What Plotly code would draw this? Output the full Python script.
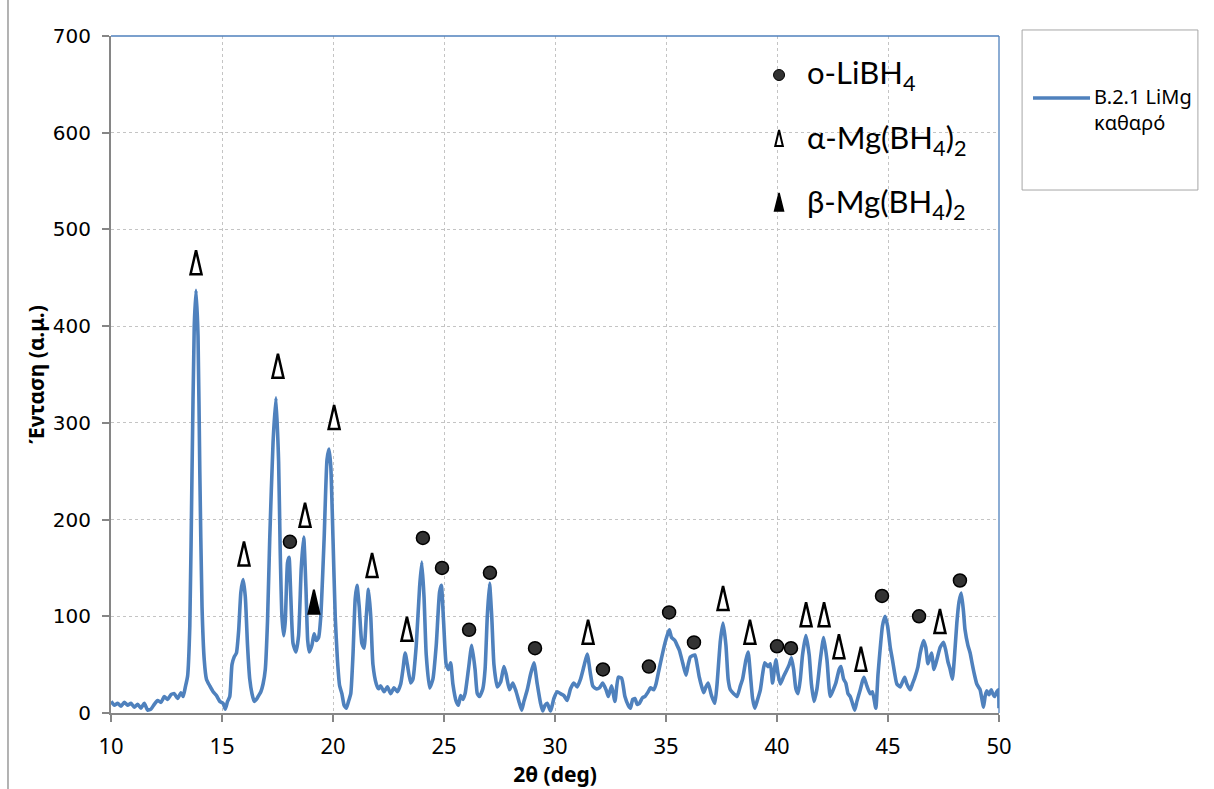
import plotly.graph_objects as go

# XRD pattern of sample B.2.1 LiMg (pure)
two_theta = [
    10.0, 10.15, 10.3, 10.45, 10.6, 10.75, 10.9, 11.05, 11.2, 11.35, 11.5, 11.65, 11.8, 11.95,
    12.1, 12.25, 12.4, 12.55, 12.7, 12.85, 13.0, 13.15, 13.25, 13.35, 13.45, 13.55, 13.65, 13.75,
    13.83, 13.92, 14.0, 14.1, 14.2, 14.3, 14.45, 14.6, 14.75, 14.9, 15.05, 15.15, 15.25, 15.35,
    15.45, 15.55, 15.65, 15.75, 15.85, 15.95, 16.05, 16.15, 16.25, 16.35, 16.45, 16.55, 16.65,
    16.75, 16.85, 16.95, 17.05, 17.15, 17.3, 17.43, 17.55, 17.62, 17.7, 17.78, 17.85, 17.95,
    18.02, 18.1, 18.2, 18.33, 18.45, 18.57, 18.68, 18.78, 18.86, 18.93, 19.05, 19.15, 19.25,
    19.35, 19.45, 19.6, 19.73, 19.82, 19.9, 20.0, 20.1, 20.2, 20.3, 20.4, 20.5, 20.6, 20.7,
    20.8, 20.9, 21.0, 21.08, 21.18, 21.3, 21.4, 21.5, 21.6, 21.7, 21.8, 21.95, 22.05, 22.15,
    22.3, 22.45, 22.6, 22.75, 22.9, 23.05, 23.15, 23.25, 23.35, 23.5, 23.6, 23.75, 23.9, 24.0,
    24.1, 24.2, 24.35, 24.5, 24.65, 24.8, 24.88, 24.98, 25.1, 25.2, 25.3, 25.4, 25.55, 25.65,
    25.75, 25.85, 25.95, 26.1, 26.25, 26.4, 26.5, 26.6, 26.75, 26.85, 26.95, 27.05, 27.15,
    27.25, 27.4, 27.55, 27.7, 27.8, 27.95, 28.1, 28.25, 28.4, 28.5, 28.6, 28.75, 28.9, 29.05,
    29.2, 29.35, 29.45, 29.55, 29.65, 29.8, 29.95, 30.1, 30.25, 30.4, 30.55, 30.7, 30.85, 31.0,
    31.15, 31.3, 31.45, 31.6, 31.7, 31.85, 32.0, 32.15, 32.3, 32.4, 32.55, 32.7, 32.85, 33.0,
    33.15, 33.3, 33.4, 33.5, 33.6, 33.7, 33.8, 33.95, 34.05, 34.2, 34.3, 34.45, 34.55, 34.65,
    34.8, 34.95, 35.05, 35.15, 35.25, 35.4, 35.5, 35.6, 35.75, 35.9, 36.0, 36.1, 36.3, 36.4,
    36.5, 36.6, 36.7, 36.8, 36.9, 37.05, 37.2, 37.3, 37.45, 37.57, 37.7, 37.8, 37.9, 38.05,
    38.2, 38.35, 38.45, 38.6, 38.7, 38.8, 38.9, 39.0, 39.1, 39.25, 39.35, 39.45, 39.6, 39.7,
    39.8, 39.9, 39.95, 40.05, 40.15, 40.3, 40.45, 40.55, 40.65, 40.75, 40.85, 40.95, 41.05,
    41.15, 41.3, 41.45, 41.55, 41.67, 41.8, 41.95, 42.1, 42.25, 42.4, 42.55, 42.65, 42.8,
    42.88, 43.0, 43.1, 43.2, 43.3, 43.4, 43.5, 43.6, 43.75, 43.85, 43.92, 44.05, 44.2, 44.3,
    44.45, 44.55, 44.65, 44.75, 44.87, 44.98, 45.1, 45.2, 45.3, 45.4, 45.55, 45.65, 45.75,
    45.85, 46.0, 46.1, 46.2, 46.35, 46.45, 46.6, 46.7, 46.8, 46.9, 46.97, 47.07, 47.2, 47.35,
    47.5, 47.6, 47.7, 47.8, 47.9, 48.0, 48.1, 48.2, 48.3, 48.4, 48.47, 48.6, 48.7, 48.8,
    48.9, 49.0, 49.1, 49.15, 49.25, 49.3, 49.38, 49.45, 49.55, 49.65, 49.7, 49.8, 49.9,
    49.97, 50.0,
]
intensity = [
    12, 8, 10, 7, 11, 8, 10, 6, 9, 5, 10, 3, 4, 9,
    13, 11, 17, 14, 19, 20, 15, 21, 17, 27, 38, 90, 250, 400,
    437, 390, 250, 110, 55, 35, 28, 22, 18, 12, 10, 4, 12, 17,
    50, 58, 62, 85, 125, 138, 120, 70, 35, 20, 12, 14, 18,
    22, 30, 45, 95, 180, 280, 326, 260, 170, 100, 80, 95, 155,
    161, 120, 72, 63, 80, 150, 182, 130, 75, 63, 70, 82, 75,
    78, 100, 180, 262, 273, 255, 180, 100, 55, 28, 20, 8, 5, 12,
    20, 60, 118, 132, 110, 72, 67, 100, 128, 100, 50, 30, 25, 28,
    22, 27, 20, 26, 22, 30, 45, 62, 50, 31, 35, 70, 130, 156,
    120, 60, 26, 35, 70, 125, 132, 95, 50, 45, 52, 30, 12, 8,
    18, 14, 20, 45, 70, 45, 20, 17, 25, 45, 100, 134, 100,
    50, 27, 32, 48, 40, 24, 31, 22, 10, 3, 12, 24, 40, 52,
    30, 10, 2, 8, 10, 2, 15, 22, 20, 18, 13, 25, 31, 27,
    35, 48, 61, 40, 28, 25, 26, 31, 24, 17, 28, 12, 37, 36,
    17, 8, 5, 14, 15, 9, 10, 16, 17, 22, 26, 24, 30, 41,
    57, 72, 80, 86, 78, 75, 70, 65, 52, 39, 50, 58, 60, 50,
    37, 28, 21, 27, 31, 18, 10, 30, 75, 93, 70, 35, 24, 20,
    17, 28, 35, 55, 63, 40, 15, 5, 12, 24, 40, 52, 48, 51,
    31, 48, 55, 40, 30, 38, 45, 50, 57, 45, 25, 20, 35,
    60, 80, 60, 30, 12, 25, 55, 78, 55, 17, 25, 31, 45,
    48, 35, 31, 20, 17, 10, 3, 12, 24, 33, 37, 28, 20, 22,
    5, 40, 67, 90, 100, 90, 68, 55, 41, 30, 27, 32, 37,
    30, 24, 30, 36, 48, 62, 75, 68, 51, 58, 62, 45, 55, 68,
    73, 65, 53, 45, 35, 60, 93, 115, 124, 105, 86, 70, 62, 50,
    39, 30, 26, 24, 12, 6, 18, 23, 19, 24, 21, 17, 22,
    24, 5,
]

# Phase identification marks
alpha_x = [13.83, 15.99, 17.52, 18.74, 20.05, 21.76, 23.33, 31.49, 37.57, 38.78,
           41.31, 42.12, 42.79, 43.78, 47.34]
alpha_y = [466, 165, 359, 205, 306, 153, 87, 84, 119, 84, 102, 102, 69, 56, 95]
libh4_x = [18.06, 24.05, 24.91, 26.13, 27.07, 29.10, 32.16, 34.23, 35.14, 36.26,
           40.00, 40.63, 44.73, 46.40, 48.24]
libh4_y = [177, 181, 150, 86, 145, 67, 45, 48, 104, 73, 69, 67, 121, 100, 137]
beta_x = [19.14]
beta_y = [115]

phase_labels = ["o-LiBH<sub>4</sub>", "α-Mg(BH<sub>4</sub>)<sub>2</sub>",
                "β-Mg(BH<sub>4</sub>)<sub>2</sub>"]
series_name = "B.2.1 LiMg<br>καθαρό"

x_ticks = [10, 15, 20, 25, 30, 35, 40, 45, 50]
y_ticks = [0, 100, 200, 300, 400, 500, 600, 700]

LINE_BLUE = "#4F81BD"
AXIS_GREY = "#868686"
GRID_GREY = "#C4C4C4"

fig = go.Figure()
fig.add_trace(go.Scatter(
    x=two_theta, y=intensity, mode="lines", name=series_name,
    line=dict(color=LINE_BLUE, width=3.6, shape="spline", smoothing=0.5),
    showlegend=False,
))
fig.add_trace(go.Scatter(
    x=libh4_x, y=libh4_y, mode="markers", showlegend=False,
    marker=dict(symbol="circle", size=13, color="#333333",
                line=dict(color="black", width=1.5)),
))

TRI_PATH = "M-5.5,-12 L0,12 L5.5,-12 Z"
shapes = []
for x, y in zip(alpha_x, alpha_y):
    shapes.append(dict(type="path", xref="x", yref="y", xsizemode="pixel",
                       ysizemode="pixel", xanchor=x, yanchor=y, path=TRI_PATH,
                       line=dict(color="black", width=2.5), fillcolor="white",
                       layer="above"))
for x, y in zip(beta_x, beta_y):
    shapes.append(dict(type="path", xref="x", yref="y", xsizemode="pixel",
                       ysizemode="pixel", xanchor=x, yanchor=y, path=TRI_PATH,
                       line=dict(color="black", width=2), fillcolor="black",
                       layer="above"))

# plot-area border (top and right edges)
shapes.append(dict(type="line", xref="paper", yref="paper", x0=0, x1=1, y0=1, y1=1,
                   line=dict(color=LINE_BLUE, width=1.3), layer="above"))
shapes.append(dict(type="line", xref="paper", yref="paper", x0=1, x1=1, y0=0, y1=1,
                   line=dict(color=LINE_BLUE, width=1.3), layer="above"))
# chart-area left edge
shapes.append(dict(type="line", xref="paper", yref="paper", x0=-0.116, x1=-0.116,
                   y0=-0.2, y1=1.1, line=dict(color="#9A9A9A", width=1.5)))

# phase key inside the plot
key_x = 0.7523
key_y = [0.9424, 0.8493, 0.7548]
shapes.append(dict(type="circle", xref="paper", yref="paper", xsizemode="pixel",
                   ysizemode="pixel", xanchor=key_x, yanchor=key_y[0],
                   x0=-5.5, x1=5.5, y0=-5.5, y1=5.5, fillcolor="#333333",
                   line=dict(color="black", width=1), layer="above"))
shapes.append(dict(type="path", xref="paper", yref="paper", xsizemode="pixel",
                   ysizemode="pixel", xanchor=key_x, yanchor=key_y[1],
                   path="M-3.8,-8 L0,8 L3.8,-8 Z", fillcolor="white",
                   line=dict(color="black", width=2), layer="above"))
shapes.append(dict(type="path", xref="paper", yref="paper", xsizemode="pixel",
                   ysizemode="pixel", xanchor=key_x, yanchor=key_y[2],
                   path="M-4.5,-9 L0,9 L4.5,-9 Z", fillcolor="black",
                   line=dict(color="black", width=1.5), layer="above"))

# series legend box
shapes.append(dict(type="rect", xref="paper", yref="paper", x0=1.026, x1=1.224,
                   y0=0.7725, y1=1.0089, line=dict(color="#A6A6A6", width=1),
                   fillcolor="white"))
shapes.append(dict(type="line", xref="paper", yref="paper", x0=1.0383, x1=1.1025,
                   y0=0.9084, y1=0.9084, line=dict(color=LINE_BLUE, width=3.6)))

annotations = []
for lbl, ky in zip(phase_labels, [0.9424, 0.8464, 0.7533]):
    annotations.append(dict(xref="paper", yref="paper", x=0.7815, y=ky, text=lbl,
                            showarrow=False, xanchor="left", yanchor="middle",
                            font=dict(family="Lato", size=31, color="black")))
annotations.append(dict(xref="paper", yref="paper", x=1.105, y=0.8907,
                        text=series_name, showarrow=False, xanchor="left",
                        yanchor="middle", align="left",
                        font=dict(family="Noto Sans", size=20, color="black")))

fig.update_layout(
    width=1214, height=789,
    margin=dict(l=111, r=215, t=36, b=76),
    paper_bgcolor="white", plot_bgcolor="white",
    shapes=shapes, annotations=annotations,
    xaxis=dict(
        range=[10, 50], tickvals=x_ticks, ticks="outside", ticklen=7,
        tickcolor=AXIS_GREY, tickwidth=1.5, showline=True, linecolor=AXIS_GREY,
        linewidth=2, showgrid=True, gridcolor=GRID_GREY, griddash="dot",
        gridwidth=1.3, zeroline=False, ticklabelstandoff=6,
        tickfont=dict(family="Noto Sans", size=22, color="black"),
        title=dict(text="<b>2θ (deg)</b>", standoff=2,
                   font=dict(family="Noto Sans", size=21, color="black")),
    ),
    yaxis=dict(
        range=[0, 700], tickvals=y_ticks, ticks="outside", ticklen=7,
        tickcolor=AXIS_GREY, tickwidth=1.5, showline=True, linecolor=AXIS_GREY,
        linewidth=2, showgrid=True, gridcolor=GRID_GREY, griddash="dot",
        gridwidth=1.3, zeroline=False, ticklabelstandoff=7,
        tickfont=dict(family="DejaVu Sans", size=20, color="black"),
        title=dict(text="<b>Ένταση (α.μ.)</b>", standoff=2,
                   font=dict(family="Noto Sans", size=21, color="black")),
    ),
)

fig.write_html("out.html")
